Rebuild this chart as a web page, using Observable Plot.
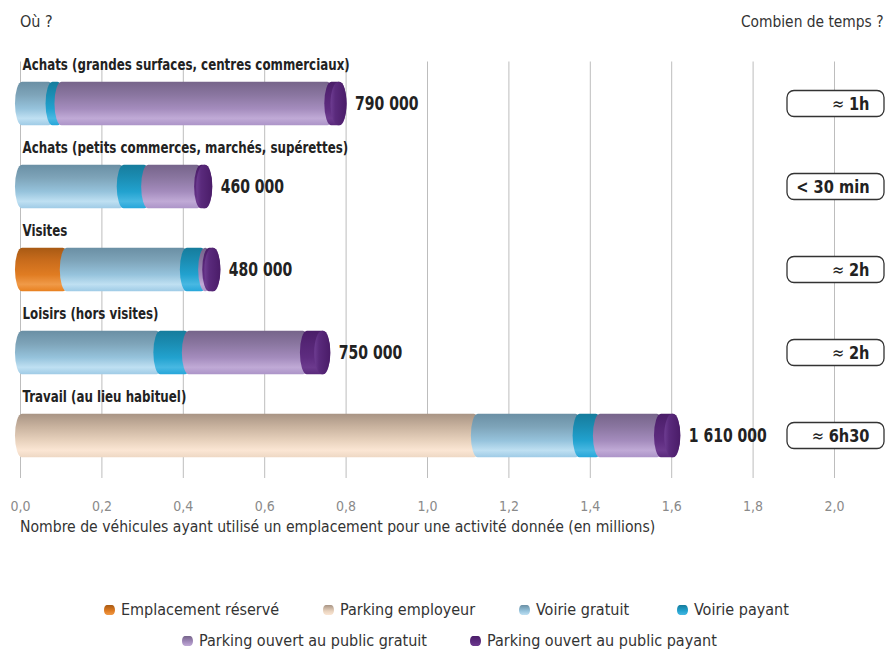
<!DOCTYPE html>
<html><head><meta charset="utf-8">
<script src="https://cdn.jsdelivr.net/npm/d3@7"></script>
<script src="https://cdn.jsdelivr.net/npm/@observablehq/plot@0.6"></script>
<style>
body{margin:0;background:#fff;}
#wrap{position:relative;width:889px;height:651px;overflow:hidden;font-family:"Liberation Sans Narrow","DejaVu Sans Condensed","Open Sans",sans-serif;font-stretch:condensed;color:#333;}
.lbl{position:absolute;font-size:16px;white-space:nowrap;line-height:1;transform-origin:0 0;}
#svgbox{position:absolute;left:0;top:0;}
.leg{position:absolute;font-size:16px;white-space:nowrap;line-height:1;display:flex;align-items:center;}
.sw{display:inline-block;width:11px;height:10px;border-radius:3px/5px;margin-right:6px;}
</style></head><body><div id="wrap"><div id="svgbox"></div></div>
<script>
// ---- data ----
const activities = [
  "Achats (grandes surfaces, centres commerciaux)",
  "Achats (petits commerces, marchés, supérettes)",
  "Visites",
  "Loisirs (hors visites)",
  "Travail (au lieu habituel)"
];
const types = [
  "Emplacement réservé",
  "Parking employeur",
  "Voirie gratuit",
  "Voirie payant",
  "Parking ouvert au public gratuit",
  "Parking ouvert au public payant"
];
const emplacementReserve = [0, 0, 0.11, 0, 0];
const parkingEmployeur   = [0, 0, 0, 0, 1.12];
const voirieGratuit      = [0.075, 0.25, 0.295, 0.34, 0.25];
const voiriePayant       = [0.022, 0.06, 0.045, 0.07, 0.05];
const publicGratuit      = [0.663, 0.13, 0.01, 0.29, 0.15];
const publicPayant       = [0.03, 0.02, 0.02, 0.05, 0.04];
const totals      = [0.79, 0.46, 0.48, 0.75, 1.61];
const totalLabels = ["790 000", "460 000", "480 000", "750 000", "1 610 000"];
const durations   = ["≈ 1h", "< 30 min", "≈ 2h", "≈ 2h", "≈ 6h30"];
const xTicks = [0, 0.2, 0.4, 0.6, 0.8, 1.0, 1.2, 1.4, 1.6, 1.8, 2.0];
const xTickLabels = ["0,0","0,2","0,4","0,6","0,8","1,0","1,2","1,4","1,6","1,8","2,0"];

// ---- styles (gradients) ----
const gradStops = [
  ["#a85a14", "#c96c1c", "#e07c22", "#f09a48", "#e8801f"],  // orange
  ["#a89484", "#c9b39f", "#e8d2bd", "#fbe6d4", "#eed8c4"],  // beige
  ["#6a8fa4", "#7ea4b9", "#96c3dc", "#bfe0f2", "#9fcbe6"],  // light blue
  ["#167c9c", "#1b8db3", "#22a2cf", "#48b8e2", "#26a6da"],  // teal
  ["#76648a", "#8a76a0", "#a48cbd", "#c0aad6", "#ac94c8"],  // light purple
  ["#4a1d68", "#552575", "#5e2c80", "#6c3a8e", "#5a2a7c"]   // dark purple
];
const gradIds = types.map((d, i) => `g${i}`);

const series = [emplacementReserve, parkingEmployeur, voirieGratuit, voiriePayant, publicGratuit, publicPayant];
const rows = [];
activities.forEach((a, i) => {
  types.forEach((t, j) => {
    const v = series[j][i];
    if (v > 0) rows.push({activity: a, type: t, value: v});
  });
});
const totRows = activities.map((a, i) => ({activity: a, total: totals[i], label: totalLabels[i], dur: durations[i]}));

const F = '"Liberation Sans Narrow","DejaVu Sans Condensed","Open Sans",sans-serif';

const plot = Plot.plot({
  width: 889,
  height: 520,
  marginLeft: 20,
  marginRight: 55,
  marginTop: 61.5,
  marginBottom: 42,
  style: {fontFamily: F, background: "transparent", overflow: "visible"},
  x: {domain: [0, 2.0], axis: null},
  y: {domain: activities, axis: null, padding: 0},
  color: {type: "ordinal", domain: types, range: gradIds.map(id => `url(#${id})`)},
  marks: [
    Plot.ruleX(xTicks, {stroke: "#bdbdbd", strokeWidth: 1}),
    Plot.text(xTicks, {x: d => d, text: (d, i) => xTickLabels[i], frameAnchor: "bottom", dy: 32, fill: "#8a8a8a", fontSize: 14}),
    Plot.barX(rows, Plot.stackX({x: "value", y: "activity", fill: "type", insetTop: 19.7, insetBottom: 19.7, insetLeft: -5, insetRight: -5, rx: 7, ry: 22})),
    Plot.barX(totRows, {x1: "total", x2: "total", y: "activity", insetTop: 19.7, insetBottom: 19.7, insetLeft: -11, insetRight: -5, rx: 8, ry: 22, fill: "url(#cap)"}),
    Plot.text(totRows, {x: "total", y: "activity", text: "label", dx: 13, textAnchor: "start", fontWeight: "bold", fontSize: 19, fill: "#222"}),
    Plot.text(activities, {x: 0, y: d => d, text: d => d, dx: 2, dy: -39, textAnchor: "start", fontWeight: "bold", fontSize: 15.5, fill: "#222"}),
    Plot.barX(totRows, {x1: 2.0, x2: 2.0, y: "activity", insetLeft: -47, insetRight: -50, insetTop: 28.5, insetBottom: 28.5, rx: 7, fill: "white", stroke: "#333", strokeWidth: 1.3}),
    Plot.text(totRows, {x: 2.0, y: "activity", text: "dur", dx: 35, textAnchor: "end", fontWeight: "bold", fontSize: 18, fill: "#222"})
  ]
});

// inject gradient definitions
const svg = d3.select(plot);
const defs = svg.insert("defs", ":first-child");
gradStops.forEach((stops, i) => {
  const g = defs.append("linearGradient").attr("id", gradIds[i]).attr("x1", 0).attr("y1", 0).attr("x2", 0).attr("y2", 1);
  [0, 0.3, 0.62, 0.84, 1].forEach((o, k) => g.append("stop").attr("offset", o).attr("stop-color", stops[k]));
});
const cap = defs.append("linearGradient").attr("id", "cap").attr("x1", 0).attr("y1", 0).attr("x2", 1).attr("y2", 0);
[["0", "#6e3d92"], ["0.3", "#5a2a7c"], ["1", "#4a1c68"]].forEach(([o, c]) => cap.append("stop").attr("offset", o).attr("stop-color", c));

document.getElementById("svgbox").appendChild(plot);

// condense bold texts (reference uses a condensed face)
const textGroups = svg.selectAll("g[aria-label='text']").nodes();
// groups: 0 ticks, 1 totals, 2 titles, 3 durations
// durations: "≈" in regular weight
d3.select(textGroups[3]).selectAll("text").each(function() {
  const t = this.textContent;
  if (t.startsWith("≈")) {
    const sel = d3.select(this);
    sel.text(null);
    sel.append("tspan").attr("font-weight", "normal").text("≈ ");
    sel.append("tspan").text(t.slice(2));
  }
});
[[1, 0.82], [2, 0.85], [3, 0.9]].forEach(([gi, f]) => {
  d3.select(textGroups[gi]).selectAll("text").each(function() {
    const len = this.getComputedTextLength();
    this.setAttribute("textLength", (len * f).toFixed(1));
    this.setAttribute("lengthAdjust", "spacingAndGlyphs");
  });
});

// ---- html texts ----
const wrap = document.getElementById("wrap");
function addLabel(text, x, y, opts = {}) {
  const d = document.createElement("div");
  d.className = "lbl";
  d.textContent = text;
  d.style.top = y + "px";
  if (opts.right != null) { d.style.right = opts.right + "px"; d.style.transformOrigin = "100% 0"; }
  else d.style.left = x + "px";
  if (opts.scale) d.style.transform = `scaleX(${opts.scale})`;
  wrap.appendChild(d);
}
addLabel("Où ?", 20, 14);
addLabel("Combien de temps ?", 0, 14, {right: 5, scale: 0.96});
addLabel("Nombre de véhicules ayant utilisé un emplacement pour une activité donnée (en millions)", 20, 519, {scale: 0.975});

// legend
const legendRows = [
  [[0, 104], [1, 323], [2, 519], [3, 677]],
  [[4, 182], [5, 470]]
];
const legendTop = [602, 633];
legendRows.forEach((r, ri) => r.forEach(([j, x]) => {
  const d = document.createElement("div");
  d.className = "leg";
  d.style.left = x + "px";
  d.style.top = legendTop[ri] + "px";
  const s = document.createElement("span");
  s.className = "sw";
  const st = gradStops[j];
  s.style.background = `linear-gradient(${st[0]}, ${st[2]} 60%, ${st[3]})`;
  d.appendChild(s);
  d.appendChild(document.createTextNode(types[j]));
  wrap.appendChild(d);
}));
</script></body></html>
